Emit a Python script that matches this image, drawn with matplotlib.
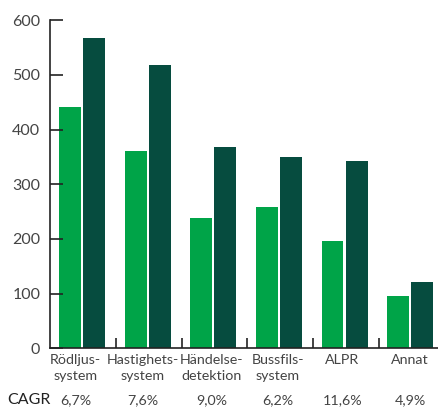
import matplotlib
matplotlib.use("Agg")
import matplotlib.pyplot as plt
import numpy as np
from matplotlib.transforms import blended_transform_factory

categories = ["Rödljus-\nsystem", "Hastighets-\nsystem", "Händelse-\ndetektion",
              "Bussfils-\nsystem", "ALPR", "Annat"]
values_light = [442, 360, 239, 259, 197, 96]
values_dark = [568, 519, 369, 350, 343, 122]
cagr = ["6,7%", "7,6%", "9,0%", "6,2%", "11,6%", "4,9%"]
yticks = [0, 100, 200, 300, 400, 500, 600]

light = "#00a448"
dark = "#064c3f"
textc = "#444444"

plt.rcParams['font.family'] = ['Lato', 'DejaVu Sans']

fig = plt.figure(figsize=(4.39, 4.07), dpi=100)
W, H = 439, 407
ax = fig.add_axes([50 / W, 1 - 348.3 / H, (439 - 50) / W, (348.3 - 20.3) / H])

x = np.arange(len(categories))
bw = 0.335
off = 0.183
ax.bar(x - off, values_light, width=bw, color=light)
ax.bar(x + off, values_dark, width=bw, color=dark)

ax.set_xlim(-0.488, 5.44)
ax.set_ylim(0, 600)

for s in ["top", "right"]:
    ax.spines[s].set_visible(False)
for s in ["left", "bottom"]:
    ax.spines[s].set_color("#222222")
    ax.spines[s].set_linewidth(1.2)

ax.set_yticks(yticks)
ax.set_yticklabels([str(v) for v in yticks], fontsize=11.5, color=textc)
ax.tick_params(axis="y", direction="in", length=9, width=1.2, color="#222222", pad=7)

ax.set_xticks([])
ax.set_xticks(x[:-1] + 0.52, minor=True)
ax.tick_params(axis="x", which="minor", direction="in", length=7, width=1.2,
               color="#222222", labelbottom=False)

tr = blended_transform_factory(ax.transData, fig.transFigure)
shifts = [-0.1, -0.08, -0.03, -0.02, -0.03, 0.0]
for xi, c, s in zip(x, categories, shifts):
    ax.text(xi + s, 1 - 354 / H, c, transform=tr, ha="center", va="top",
            fontsize=10.3, color=textc, linespacing=1.4)
ycagr = 1 - 400.5 / H
for xi, c, s in zip(x, cagr, shifts):
    ax.text(xi + s, ycagr, c, transform=tr, ha="center", va="center",
            fontsize=10.3, color=textc)
fig.text(7 / W, ycagr, "CAGR", ha="left", va="center", fontsize=11.5, color="#222222")

fig.savefig("out.png", dpi=100)
